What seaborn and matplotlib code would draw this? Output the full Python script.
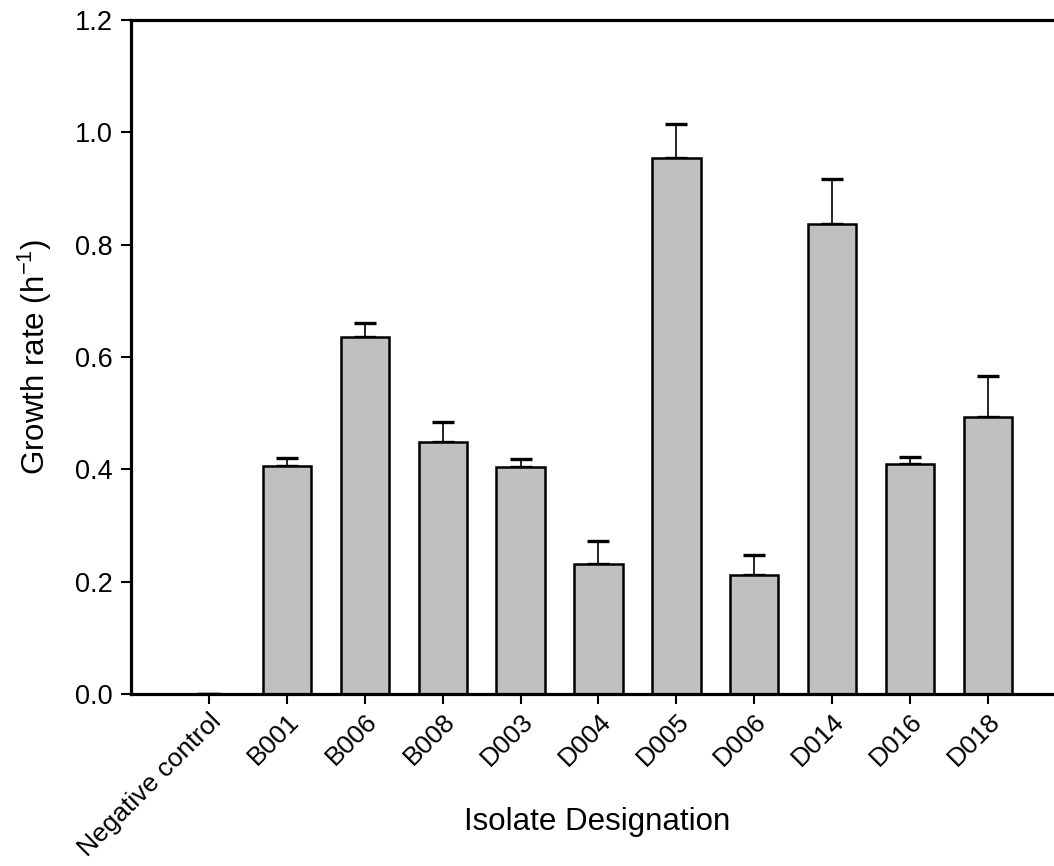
import matplotlib
matplotlib.use("Agg")
import matplotlib.pyplot as plt
import seaborn as sns
import numpy as np
import pandas as pd

categories = ["Negative control", "B001", "B006", "B008", "D003", "D004",
              "D005", "D006", "D014", "D016", "D018"]
growth_rate = [0.0, 0.406, 0.636, 0.449, 0.405, 0.231, 0.955, 0.211, 0.837, 0.410, 0.494]
error_upper = [0.0, 0.014, 0.025, 0.035, 0.013, 0.042, 0.060, 0.037, 0.080, 0.012, 0.072]
y_ticks = [0.0, 0.2, 0.4, 0.6, 0.8, 1.0, 1.2]

sns.set_theme(style="white")
plt.rcParams['font.family'] = ['Liberation Sans', 'DejaVu Sans']

W, H = 1054, 866
fig = plt.figure(figsize=(W / 100, H / 100), dpi=100)
left, right, top, bottom = 131, 1066, 20, 694
ax = fig.add_axes([left / W, (H - bottom) / H, (right - left) / W, (bottom - top) / H])

df = pd.DataFrame({"Isolate": categories, "Rate": growth_rate})
sns.barplot(data=df, x="Isolate", y="Rate", color="#c0c0c0", saturation=1,
            edgecolor="black", linewidth=1.8, width=0.62, ax=ax, zorder=2)

xpos = np.arange(len(categories))
ax.errorbar(xpos, growth_rate, yerr=[np.zeros(len(categories)), error_upper],
            fmt="none", ecolor="black", elinewidth=1.2, capsize=8, capthick=2.4, zorder=1)

ax.set_xlim(-1, 11)
ax.set_ylim(0, 1.2)
ax.set_yticks(y_ticks)
ax.set_yticklabels([f"{t:.1f}" for t in y_ticks], fontsize=19.5)
ax.set_xticks(xpos)
ax.set_xticklabels(categories, rotation=45, ha="right", rotation_mode="anchor", fontsize=19)

for s in ["left", "bottom", "top"]:
    ax.spines[s].set_visible(True)
    ax.spines[s].set_linewidth(2.3)
    ax.spines[s].set_color("black")
ax.spines["right"].set_visible(False)

ax.tick_params(axis="both", which="major", direction="out", length=7, width=1.5,
               color="black", labelcolor="black", left=True, bottom=True)
ax.tick_params(axis="x", pad=4)
ax.tick_params(axis="y", pad=6)

ax.set_xlabel("Isolate Designation", fontsize=22.5, color="black", va="center")
ax.xaxis.set_label_coords((597 - left) / (right - left), (bottom - 822) / (bottom - top))
ax.set_ylabel("Growth rate (h$^{\\mathregular{-1}}$)", fontsize=22.5, color="black", va="center")
ax.yaxis.set_label_coords((35 - left) / (right - left), 0.5)
ax.grid(False)

fig.savefig("out.png", dpi=100)
